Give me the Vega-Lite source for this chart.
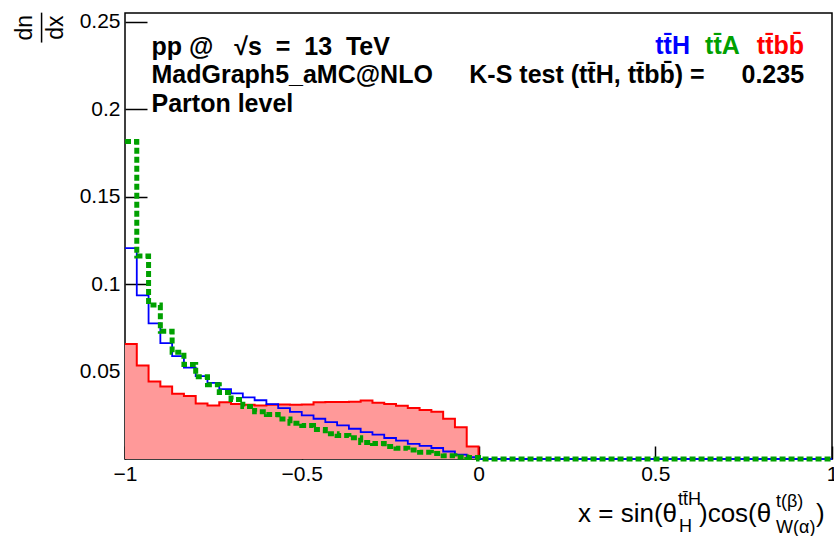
{
  "$schema": "https://vega.github.io/schema/vega-lite/v6.json",
  "width": 707,
  "height": 446,
  "autosize": "none",
  "padding": {"left": 125, "top": 13, "right": 2, "bottom": 77},
  "background": "white",
  "config": {
    "view": {"stroke": "black", "strokeWidth": 1.5},
    "font": "Liberation Sans"
  },
  "datasets": {
    "ttH": [
      {"x": -1, "n": 0.1206}, {"x": -0.96667, "n": 0.0935}, {"x": -0.93333, "n": 0.0775},
      {"x": -0.9, "n": 0.0662}, {"x": -0.86667, "n": 0.0588}, {"x": -0.83333, "n": 0.0523},
      {"x": -0.8, "n": 0.0474}, {"x": -0.76667, "n": 0.0435}, {"x": -0.73333, "n": 0.04},
      {"x": -0.7, "n": 0.0375}, {"x": -0.66667, "n": 0.0352}, {"x": -0.63333, "n": 0.0336},
      {"x": -0.6, "n": 0.0314}, {"x": -0.56667, "n": 0.0291}, {"x": -0.53333, "n": 0.0269},
      {"x": -0.5, "n": 0.0249}, {"x": -0.46667, "n": 0.023}, {"x": -0.43333, "n": 0.0211},
      {"x": -0.4, "n": 0.0192}, {"x": -0.36667, "n": 0.0173}, {"x": -0.33333, "n": 0.0154},
      {"x": -0.3, "n": 0.0139}, {"x": -0.26667, "n": 0.012}, {"x": -0.23333, "n": 0.0105},
      {"x": -0.2, "n": 0.0086}, {"x": -0.16667, "n": 0.0075}, {"x": -0.13333, "n": 0.0063},
      {"x": -0.1, "n": 0.0043}, {"x": -0.06667, "n": 0.0025}, {"x": -0.03333, "n": 0.001},
      {"x": 0, "n": 0}, {"x": 1, "n": 0}
    ],
    "ttA": [
      {"x": -1, "n": 0.1815}, {"x": -0.96667, "n": 0.116}, {"x": -0.93333, "n": 0.088},
      {"x": -0.9, "n": 0.073}, {"x": -0.86667, "n": 0.061}, {"x": -0.83333, "n": 0.054},
      {"x": -0.8, "n": 0.047}, {"x": -0.76667, "n": 0.0425}, {"x": -0.73333, "n": 0.038},
      {"x": -0.7, "n": 0.034}, {"x": -0.66667, "n": 0.03}, {"x": -0.63333, "n": 0.027},
      {"x": -0.6, "n": 0.0255}, {"x": -0.56667, "n": 0.0228}, {"x": -0.53333, "n": 0.0205},
      {"x": -0.5, "n": 0.0192}, {"x": -0.46667, "n": 0.0168}, {"x": -0.43333, "n": 0.0145},
      {"x": -0.4, "n": 0.0135}, {"x": -0.36667, "n": 0.0122}, {"x": -0.33333, "n": 0.0095},
      {"x": -0.3, "n": 0.0088}, {"x": -0.26667, "n": 0.0072}, {"x": -0.23333, "n": 0.0062},
      {"x": -0.2, "n": 0.0052}, {"x": -0.16667, "n": 0.0038}, {"x": -0.13333, "n": 0.0032},
      {"x": -0.1, "n": 0.0018}, {"x": -0.06667, "n": 0.0012}, {"x": -0.03333, "n": 0.0008},
      {"x": 0, "n": 0}, {"x": 1, "n": 0}
    ],
    "ttbb": [
      {"x": -1, "n": 0.0657}, {"x": -0.96667, "n": 0.0535}, {"x": -0.93333, "n": 0.0443},
      {"x": -0.9, "n": 0.0415}, {"x": -0.86667, "n": 0.0373}, {"x": -0.83333, "n": 0.036},
      {"x": -0.8, "n": 0.0318}, {"x": -0.76667, "n": 0.0306}, {"x": -0.73333, "n": 0.0324},
      {"x": -0.7, "n": 0.0314}, {"x": -0.66667, "n": 0.031}, {"x": -0.63333, "n": 0.0306},
      {"x": -0.6, "n": 0.031}, {"x": -0.56667, "n": 0.0312}, {"x": -0.53333, "n": 0.031},
      {"x": -0.5, "n": 0.0312}, {"x": -0.46667, "n": 0.0324}, {"x": -0.43333, "n": 0.0326},
      {"x": -0.4, "n": 0.0326}, {"x": -0.36667, "n": 0.0328}, {"x": -0.33333, "n": 0.0335},
      {"x": -0.3, "n": 0.0322}, {"x": -0.26667, "n": 0.0314}, {"x": -0.23333, "n": 0.0305},
      {"x": -0.2, "n": 0.0292}, {"x": -0.16667, "n": 0.028}, {"x": -0.13333, "n": 0.027},
      {"x": -0.1, "n": 0.023}, {"x": -0.06667, "n": 0.0182}, {"x": -0.03333, "n": 0.0072},
      {"x": 0, "n": 0}, {"x": 1, "n": 0}
    ],
    "one": [{"k": 1}]
  },
  "layer": [
    {
      "data": {"name": "ttbb"},
      "mark": {"type": "area", "interpolate": "step-after", "color": "#ff9999", "opacity": 1},
      "encoding": {
        "x": {
          "field": "x", "type": "quantitative",
          "scale": {"domain": [-1, 1], "nice": false, "zero": false},
          "axis": {
            "values": [-1, -0.5, 0, 0.5, 1], "format": "~g",
            "grid": false, "domain": false,
            "tickSize": -13, "tickColor": "black", "tickWidth": 1.5,
            "labelPadding": 17, "labelFontSize": 21, "labelColor": "black",
            "labelFont": "Liberation Sans", "labelFlush": false,
            "title": null
          }
        },
        "y": {
          "field": "n", "type": "quantitative",
          "scale": {"domain": [0, 0.255], "nice": false},
          "axis": {
            "values": [0.05, 0.1, 0.15, 0.2, 0.25], "format": ".2~f",
            "grid": false, "domain": false,
            "tickSize": -22, "tickColor": "black", "tickWidth": 1.5,
            "labelPadding": 27, "labelFontSize": 21, "labelColor": "black",
            "labelFont": "Liberation Sans", "labelFlush": false,
            "title": null
          }
        }
      }
    },
    {"data": {"name": "ttbb"}, "mark": {"type": "line", "interpolate": "step-after", "color": "#ff0000", "strokeWidth": 2},
     "encoding": {"x": {"field": "x", "type": "quantitative"}, "y": {"field": "n", "type": "quantitative"}}},
    {"data": {"name": "ttH"}, "mark": {"type": "line", "interpolate": "step-after", "color": "#0000ff", "strokeWidth": 1.8},
     "encoding": {"x": {"field": "x", "type": "quantitative"}, "y": {"field": "n", "type": "quantitative"}}},
    {"data": {"name": "ttA"}, "mark": {"type": "line", "interpolate": "step-after", "color": "#00a000", "strokeWidth": 5, "strokeDash": [6, 3], "strokeCap": "butt"},
     "encoding": {"x": {"field": "x", "type": "quantitative"}, "y": {"field": "n", "type": "quantitative"}}},

    {"data": {"name": "one"}, "mark": {"type": "text", "align": "left", "baseline": "alphabetic", "fontSize": 25, "fontWeight": "bold", "color": "black", "font": "Liberation Sans"},
     "encoding": {"x": {"datum": -0.925}, "y": {"datum": 0.231}, "text": {"value": "pp @\u00a0\u00a0 √s\u00a0 =\u00a0 13\u00a0 TeV"}}},
    {"data": {"name": "one"}, "mark": {"type": "text", "align": "left", "baseline": "alphabetic", "fontSize": 25, "fontWeight": "bold", "color": "black", "font": "Liberation Sans"},
     "encoding": {"x": {"datum": -0.925}, "y": {"datum": 0.215}, "text": {"value": "MadGraph5_aMC@NLO"}}},
    {"data": {"name": "one"}, "mark": {"type": "text", "align": "left", "baseline": "alphabetic", "fontSize": 25, "fontWeight": "bold", "color": "black", "font": "Liberation Sans"},
     "encoding": {"x": {"datum": -0.925}, "y": {"datum": 0.1984}, "text": {"value": "Parton level"}}},
    {"data": {"name": "one"}, "mark": {"type": "text", "align": "left", "baseline": "alphabetic", "fontSize": 25, "fontWeight": "bold", "color": "black", "font": "Liberation Sans"},
     "encoding": {"x": {"datum": -0.026}, "y": {"datum": 0.215}, "text": {"value": "K-S test (tt̄H, tt̄bb̄) ="}}},
    {"data": {"name": "one"}, "mark": {"type": "text", "align": "right", "baseline": "alphabetic", "fontSize": 25, "fontWeight": "bold", "color": "black", "font": "Liberation Sans"},
     "encoding": {"x": {"datum": 0.921}, "y": {"datum": 0.215}, "text": {"value": "0.235"}}},
    {"data": {"name": "one"}, "mark": {"type": "text", "align": "left", "baseline": "alphabetic", "fontSize": 25, "fontWeight": "bold", "color": "#0000ff", "font": "Liberation Sans"},
     "encoding": {"x": {"datum": 0.5}, "y": {"datum": 0.2315}, "text": {"value": "tt̄H"}}},
    {"data": {"name": "one"}, "mark": {"type": "text", "align": "left", "baseline": "alphabetic", "fontSize": 25, "fontWeight": "bold", "color": "#00a000", "font": "Liberation Sans"},
     "encoding": {"x": {"datum": 0.641}, "y": {"datum": 0.2315}, "text": {"value": "tt̄A"}}},
    {"data": {"name": "one"}, "mark": {"type": "text", "align": "right", "baseline": "alphabetic", "fontSize": 25, "fontWeight": "bold", "color": "#ff0000", "font": "Liberation Sans"},
     "encoding": {"x": {"datum": 0.921}, "y": {"datum": 0.2315}, "text": {"value": "tt̄bb̄"}}},

    {"data": {"name": "one"}, "mark": {"type": "text", "align": "center", "baseline": "middle", "angle": 270, "fontSize": 23, "color": "black", "font": "Liberation Sans"},
     "encoding": {"x": {"datum": -1.2827}, "y": {"datum": 0.2466}, "text": {"value": "dn"}}},
    {"data": {"name": "one"}, "mark": {"type": "text", "align": "center", "baseline": "middle", "angle": 270, "fontSize": 23, "color": "black", "font": "Liberation Sans"},
     "encoding": {"x": {"datum": -1.1965}, "y": {"datum": 0.2466}, "text": {"value": "dx"}}},
    {"data": {"name": "one"}, "mark": {"type": "rule", "color": "black", "strokeWidth": 1.5},
     "encoding": {"x": {"datum": -1.236}, "y": {"datum": 0.2552}, "y2": {"datum": 0.2381}}},

    {"data": {"name": "one"}, "mark": {"type": "text", "align": "left", "baseline": "alphabetic", "fontSize": 26, "color": "black", "font": "Liberation Sans"},
     "encoding": {"x": {"datum": 0.2815}, "y": {"datum": -0.036}, "text": {"value": "x = sin(θ"}}},
    {"data": {"name": "one"}, "mark": {"type": "text", "align": "left", "baseline": "alphabetic", "fontSize": 18, "color": "black", "font": "Liberation Sans"},
     "encoding": {"x": {"datum": 0.5644}, "y": {"datum": -0.0263}, "text": {"value": "tt̄H"}}},
    {"data": {"name": "one"}, "mark": {"type": "text", "align": "left", "baseline": "alphabetic", "fontSize": 18, "color": "black", "font": "Liberation Sans"},
     "encoding": {"x": {"datum": 0.5672}, "y": {"datum": -0.0417}, "text": {"value": "H"}}},
    {"data": {"name": "one"}, "mark": {"type": "text", "align": "left", "baseline": "alphabetic", "fontSize": 26, "color": "black", "font": "Liberation Sans"},
     "encoding": {"x": {"datum": 0.6237}, "y": {"datum": -0.036}, "text": {"value": ")cos(θ"}}},
    {"data": {"name": "one"}, "mark": {"type": "text", "align": "left", "baseline": "alphabetic", "fontSize": 18, "color": "black", "font": "Liberation Sans"},
     "encoding": {"x": {"datum": 0.8416}, "y": {"datum": -0.0274}, "text": {"value": "t(β)"}}},
    {"data": {"name": "one"}, "mark": {"type": "text", "align": "left", "baseline": "alphabetic", "fontSize": 18, "color": "black", "font": "Liberation Sans"},
     "encoding": {"x": {"datum": 0.8416}, "y": {"datum": -0.0423}, "text": {"value": "W(α)"}}},
    {"data": {"name": "one"}, "mark": {"type": "text", "align": "left", "baseline": "alphabetic", "fontSize": 26, "color": "black", "font": "Liberation Sans"},
     "encoding": {"x": {"datum": 0.9547}, "y": {"datum": -0.036}, "text": {"value": ")"}}}
  ]
}
